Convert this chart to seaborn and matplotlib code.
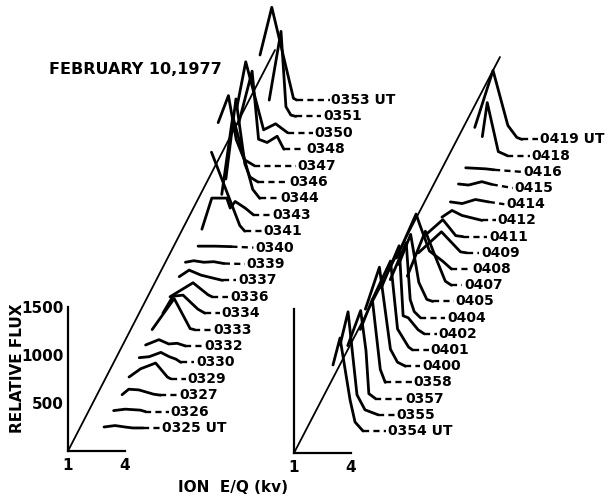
import matplotlib
matplotlib.use("Agg")
import matplotlib.pyplot as plt
import pandas as pd
import seaborn as sns

# ---------------- data (ion E/Q in kV, relative flux) ----------------
left_times = ["0325 UT", "0326", "0327", "0329", "0330", "0332", "0333", "0334",
              "0336", "0337", "0339", "0340", "0341", "0343", "0344", "0346",
              "0347", "0348", "0350", "0351", "0353 UT"]
left_E = [
    [2.27, 2.85, 3.37, 3.79, 4.32],
    [2.33, 2.94, 3.73, 4.00],
    [2.33, 2.68, 3.21, 3.99, 4.35],
    [2.25, 2.86, 3.65, 4.27, 4.44],
    [2.34, 2.86, 3.48, 3.92, 4.27, 4.53],
    [2.23, 2.93, 3.45, 3.89, 4.33],
    [2.13, 3.29, 4.13, 4.34],
    [2.25, 2.78, 3.31, 4.09, 4.46],
    [2.18, 3.39, 4.18, 4.39],
    [2.22, 2.74, 3.36, 4.06, 4.50],
    [2.10, 2.54, 3.07, 3.59, 4.12],
    [2.32, 3.20, 4.07],
    [2.58, 4.07, 4.33],
    [1.63, 2.15, 2.94, 3.12, 3.38, 3.91, 4.34],
    [2.23, 2.81, 3.86, 4.23],
    [2.00, 2.53, 3.00, 3.27, 3.69],
    [1.15, 1.69, 2.10, 2.52, 3.05],
    [1.77, 2.49, 2.83, 3.28, 3.81, 4.16],
    [1.23, 1.71, 2.65, 3.28, 3.92],
    [2.50, 3.12, 3.38, 3.64, 3.90],
    [1.57, 2.19, 3.33, 3.50],
]
left_F = [
    [10, 25, 10, 0, 0],
    [10, 25, 15, 0],
    [5, 62, 55, 10, 0],
    [18, 104, 164, 18, 0],
    [49, 59, 104, 59, 34, 0],
    [10, 66, 21, 28, 0],
    [0, 323, 10, 0],
    [0, 177, 188, 42, 0],
    [0, 146, 21, 0],
    [39, 107, 55, 21, 0],
    [18, 34, 18, 24, 5],
    [15, 15, 10],
    [823, 59, 0],
    [-150, 174, 174, 70, 139, 70, 0],
    [42, 854, 94, 0],
    [31, 865, 188, 52, 0],
    [448, 729, 271, 63, 0],
    [260, 813, 104, 70, 135, 0],
    [250, 740, 31, 94, 0],
    [170, 886, 101, 14, 0],
    [469, 966, 18, 0],
]

right_times = ["0354 UT", "0355", "0357", "0358", "0400", "0401", "0402", "0404",
               "0405", "0407", "0408", "0409", "0411", "0412", "0414", "0415",
               "0416", "0418", "0419 UT"]
right_E = [
    [2.45, 2.82, 3.35, 3.61, 4.03],
    [2.38, 2.80, 3.27, 3.69, 4.38],
    [2.34, 3.02, 3.30, 3.45, 3.80],
    [2.56, 3.19, 3.61, 3.87],
    [2.38, 3.12, 3.70, 4.07, 4.49],
    [2.32, 3.26, 3.63, 4.21, 4.42],
    [2.33, 3.27, 3.48, 3.75, 4.27, 4.59],
    [2.36, 3.20, 3.41, 3.62, 3.94],
    [2.36, 2.99, 3.42, 3.84, 4.15],
    [2.37, 3.32, 3.90, 4.37, 4.69],
    [1.36, 2.39, 2.57, 3.09, 3.78, 4.25],
    [2.07, 3.28, 4.28, 4.60],
    [1.90, 2.91, 3.59, 3.96],
    [2.42, 2.95, 3.47, 4.53],
    [2.42, 3.04, 3.74, 4.44],
    [2.40, 2.93, 3.63, 4.15],
    [2.34, 3.39, 3.83],
    [2.77, 3.03, 3.61, 4.08],
    [1.93, 2.89, 3.67, 4.14, 4.41],
]
right_F = [
    [688, 969, 323, 94, 0],
    [729, 1073, 208, 52, 0],
    [552, 917, 500, 52, 0],
    [552, 865, 135, 0],
    [594, 1031, 177, 42, 0],
    [531, 927, 219, 31, 0],
    [479, 917, 188, 167, 42, 0],
    [396, 781, 188, 63, 0],
    [385, 698, 198, 21, 0],
    [94, 563, 271, 42, 0],
    [115, 573, 469, 188, 83, 0],
    [0, 219, 10, 0],
    [0, 177, 10, 0],
    [34, 104, 52, 0],
    [24, 7, 49, 24],
    [42, 31, 66, 38],
    [42, 31, 21],
    [198, 552, 42, 0],
    [125, 719, 146, 21, 0],
]

flux_ticks = [500, 1000, 1500]
flux_tick_labels = ["500", "1000", "1500"]
energy_ticks = [1, 4]
energy_tick_labels = ["1", "4"]
title = "FEBRUARY 10,1977"
ylabel = "RELATIVE FLUX"
xlabel = "ION  E/Q (kv)"

# ---------------- layout ----------------
sns.set_theme(style="white")
plt.rcParams["font.family"] = ["DejaVu Sans"]
plt.rcParams["font.weight"] = "bold"
plt.rcParams["text.color"] = "black"
plt.rcParams["axes.labelcolor"] = "black"
plt.rcParams["xtick.color"] = "black"
plt.rcParams["ytick.color"] = "black"

W, H = 608, 496
PX_PER_KV = 19.0
PX_PER_FLUX = 0.096

fig = plt.figure(figsize=(W / 100, H / 100), dpi=100)

panels = [
    dict(times=left_times, E=left_E, F=left_F, ox=68, oy=451, width=235,
         base=240, step=170.8, slope=383.4, diag_top=4177, label_E=5.33,
         ticklabels=True),
    dict(times=right_times, E=right_E, F=right_F, ox=294, oy=453, width=300,
         base=229, step=168.75, slope=380.5, diag_top=4125, label_E=5.36,
         ticklabels=False),
]

for p in panels:
    ax = fig.add_axes([p["ox"] / W, (H - p["oy"]) / H, p["width"] / W, p["oy"] / H])
    ax.set_xlim(1, 1 + p["width"] / PX_PER_KV)
    ax.set_ylim(0, p["oy"] / PX_PER_FLUX)
    ax.patch.set_alpha(0)

    rows = []
    for i, (lab, es, fs) in enumerate(zip(p["times"], p["E"], p["F"])):
        f0 = p["base"] + i * p["step"]
        shift = f0 / p["slope"]
        for e, f in zip(es, fs):
            rows.append(dict(spec=lab, x=e + shift, y=f0 + f))
        # dashed lead from end of spectrum to its time label
        ax.plot([es[-1] + shift, p["label_E"] + shift - 0.1], [f0 + fs[-1], f0],
                color="black", lw=1.7, dashes=(2.6, 1.8), clip_on=False,
                dash_capstyle="butt")
        ax.text(p["label_E"] + shift, f0, lab, ha="left", va="center",
                fontsize=10, fontweight="bold", color="black")
    df = pd.DataFrame(rows)
    sns.lineplot(data=df, x="x", y="y", units="spec", estimator=None, sort=False,
                 color="black", lw=2.0, ax=ax, legend=False)
    for ln in ax.lines:
        ln.set_clip_on(False)

    # oblique time axis
    ax.plot([1, 1 + p["diag_top"] / p["slope"]], [0, p["diag_top"]],
            color="black", lw=1.3, clip_on=False)

    for side in ["top", "right"]:
        ax.spines[side].set_visible(False)
    for side in ["left", "bottom"]:
        ax.spines[side].set_color("black")
        ax.spines[side].set_linewidth(1.6)
    ax.spines["left"].set_bounds(0, 1500)
    ax.spines["bottom"].set_bounds(1, 4)
    ax.set_xticks(energy_ticks)
    ax.set_xticklabels(energy_tick_labels, fontsize=11, fontweight="bold")
    if p["ticklabels"]:
        ax.set_yticks(flux_ticks)
        ax.set_yticklabels(flux_tick_labels, fontsize=11, fontweight="bold")
    else:
        ax.set_yticks([])
    ax.tick_params(axis="both", length=0, colors="black")
    ax.tick_params(axis="x", pad=5)
    ax.tick_params(axis="y", pad=3)
    ax.set_xlabel("")
    ax.set_ylabel("")
    ax.grid(False)

fig.text(49 / W, 1 - 70 / H, title, ha="left", va="center",
         fontsize=11.5, fontweight="bold", color="black")
fig.text(18 / W, 1 - 368 / H, ylabel, ha="center", va="center", rotation=90,
         fontsize=11, fontweight="bold", color="black")
fig.text(233 / W, 1 - 487 / H, xlabel, ha="center", va="center",
         fontsize=11, fontweight="bold", color="black")

fig.savefig("out.png", dpi=100)
